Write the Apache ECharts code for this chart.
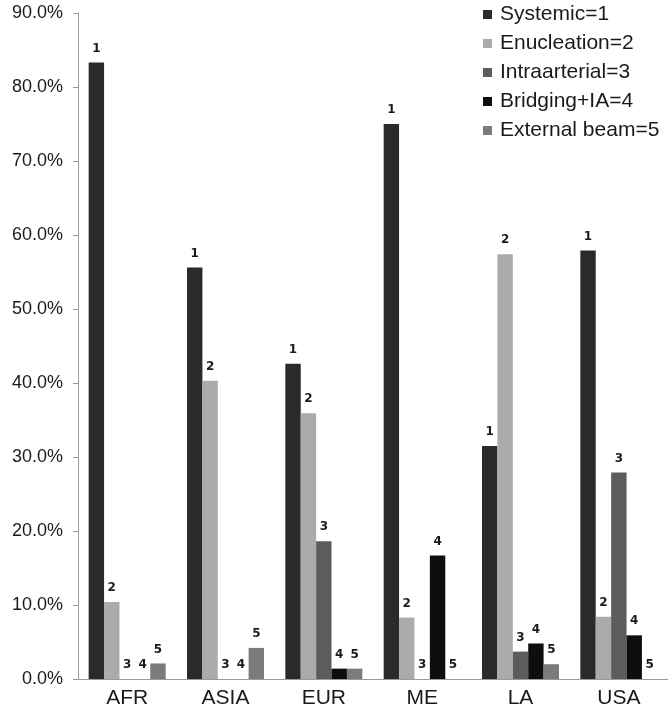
<!DOCTYPE html>
<html>
<head>
<meta charset="utf-8">
<script src="https://cdn.jsdelivr.net/npm/echarts@6/dist/echarts.min.js"></script>
<style>html,body{margin:0;padding:0;background:#fff}#c{width:669px;height:713px}</style>
</head>
<body>
<div id="c"></div>
<script>
const categories = ['AFR', 'ASIA', 'EUR', 'ME', 'LA', 'USA'];
const seriesNames = ['Systemic=1', 'Enucleation=2', 'Intraarterial=3', 'Bridging+IA=4', 'External beam=5'];
const seriesTags = ['1', '2', '3', '4', '5'];
const systemic = [83.3, 55.6, 42.6, 75.0, 31.5, 57.9];
const enucleation = [10.4, 40.3, 35.9, 8.3, 57.4, 8.4];
const intraarterial = [0, 0, 18.6, 0, 3.7, 27.9];
const bridging = [0, 0, 1.4, 16.7, 4.8, 5.9];
const externalBeam = [2.1, 4.2, 1.4, 0, 2.0, 0];
const yTicks = [0, 10, 20, 30, 40, 50, 60, 70, 80, 90];

const values = [systemic, enucleation, intraarterial, bridging, externalBeam];
const colors = ['#2a2a2a', '#ababab', '#5c5c5c', '#0e0e0e', '#7b7b7b'];
const FONT = 'Liberation Sans, Arial, sans-serif';

const chart = echarts.init(document.getElementById('c'), null, {renderer: 'canvas'});
chart.setOption({
  animation: false,
  backgroundColor: '#ffffff',
  grid: {left: 78, right: 1, top: 13, bottom: 34, containLabel: false},
  legend: {
    orient: 'vertical',
    left: 478,
    top: -1,
    itemWidth: 9,
    itemHeight: 9,
    itemGap: 8,
    icon: 'rect',
    textStyle: {fontFamily: FONT, fontSize: 21, color: '#1a1a1a', padding: [0, 0, 0, 3]},
    data: seriesNames
  },
  xAxis: {
    type: 'category',
    data: categories,
    axisLine: {lineStyle: {color: '#9a9a9a', width: 1}},
    axisTick: {show: false},
    axisLabel: {fontFamily: FONT, fontSize: 21, color: '#1a1a1a', margin: 9}
  },
  yAxis: {
    type: 'value',
    min: yTicks[0],
    max: yTicks[yTicks.length - 1],
    interval: 10,
    axisLine: {show: true, lineStyle: {color: '#9a9a9a', width: 1}},
    axisTick: {show: true, length: 5, lineStyle: {color: '#9a9a9a'}},
    splitLine: {show: false},
    axisLabel: {
      fontFamily: FONT, fontSize: 18, color: '#1a1a1a', margin: 15,
      formatter: v => v.toFixed(1) + '%'
    }
  },
  series: values.map((vals, i) => ({
    name: seriesNames[i],
    type: 'bar',
    data: vals,
    barWidth: 15.4,
    barGap: '0%',
    itemStyle: {color: colors[i]},
    label: {
      show: true,
      position: 'top',
      distance: 8,
      formatter: () => seriesTags[i],
      fontFamily: 'DejaVu Sans, sans-serif',
      fontWeight: 'bold',
      fontSize: 12,
      color: '#1a1a1a'
    }
  }))
});
</script>
</body>
</html>
